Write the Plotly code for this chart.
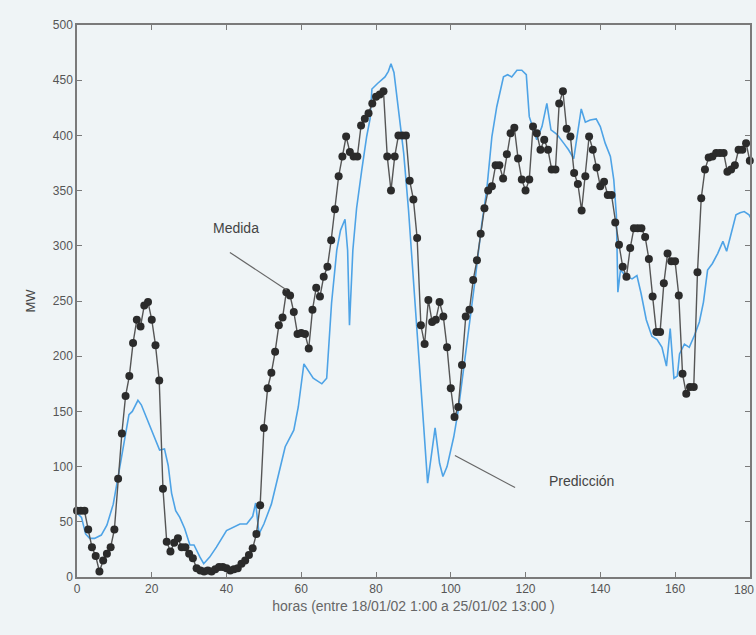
import plotly.graph_objects as go

# Measured load (MW), hourly from hour 0
medida_horas = list(range(0, 182))
medida_mw = [
    60, 60, 60, 43, 27, 19, 5, 15, 21, 27,
    43, 89, 130, 164, 182, 212, 233, 227, 246, 249,
    233, 210, 178, 80, 32, 23, 31, 35, 27, 27,
    21, 17, 8, 6, 5, 6, 5, 7, 9, 9,
    8, 6, 7, 8, 12, 15, 20, 26, 39, 65,
    135, 171, 185, 204, 228, 235, 258, 255, 240, 220,
    221, 220, 207, 242, 262, 254, 272, 281, 305, 333,
    363, 381, 399, 385, 381, 381, 409, 415, 420, 429,
    435, 437, 440, 381, 350, 381, 400, 400, 400, 359,
    342, 307, 228, 211, 251, 231, 233, 249, 236, 208,
    171, 145, 154, 192, 236, 242, 269, 287, 311, 334,
    350, 354, 373, 373, 361, 383, 402, 407, 379, 360,
    350, 360, 408, 402, 387, 396, 387, 369, 369, 429,
    440, 406, 399, 366, 356, 332, 363, 399, 387, 371,
    354, 358, 346, 346, 321, 301, 281, 272, 298, 316,
    316, 316, 308, 288, 254, 222, 222, 266, 293, 286,
    286, 255, 184, 166, 172, 172, 276, 343, 369, 380,
    381, 384, 384, 384, 367, 369, 373, 387, 387, 393,
    377, 356,
]

# Prediction (MW)
pred_horas = [
    0, 1.2, 2.3, 3.4, 4.7, 6.5, 8, 9.7, 11, 12.3, 13.9, 14.8, 16.3, 17.2, 18.8,
    20.8, 22.1, 23.4, 24.4, 25.3, 26.4, 27.5, 28.8, 30.2, 31.3, 32.9, 33.9, 35.5,
    37.3, 40, 43.6, 45.4, 47, 47.8, 48.7, 50, 52, 54, 55.7, 58, 59.2, 60.7, 62,
    63.2, 65.5, 66.8, 68.1, 69.5, 70.5, 71.7, 72.4, 72.9, 73.8, 74.8, 76.2, 77.5,
    78.4, 78.9, 80.4, 82.4, 83.3, 84, 84.8, 86, 87.4, 88.7, 90, 91.4, 92.7, 93.8,
    95, 95.8, 97, 97.9, 99, 100.8, 102, 103.4, 104.7, 106.5, 108.3, 109.6, 111,
    112.3, 114.1, 115.2, 116.3, 117.7, 119, 120.2, 121, 122.1, 123, 124.4, 125.7,
    126.8, 128.4, 130.2, 131.5, 132.9, 133.9, 134.9, 136, 137.3, 138.9, 140,
    141.3, 142.7, 143.6, 144.3, 144.7, 145.4, 146.7, 148.5, 149.8, 150.9, 152.3,
    153.8, 155.2, 156.5, 157.7, 158.7, 159.7, 160.6, 161.2, 162.5, 163.8, 165.2,
    166.5, 167.6, 168.7, 170, 171.4, 172.8, 173.8, 175, 176.3, 177.4, 178.5,
    179.8, 180.8,
]
pred_mw = [
    58, 54, 39, 35, 35, 38, 47, 66, 91, 118, 147, 150, 160, 156, 142,
    125, 115, 116, 101, 76, 60, 54, 44, 29, 29, 18, 12, 18,
    27, 42, 48, 48, 55, 67, 39, 48, 66, 94, 118, 133, 154, 193, 186,
    180, 175, 180, 248, 296, 314, 324, 296, 228, 296, 334, 369, 399,
    415, 442, 447, 453, 458, 465, 457, 423, 384, 332, 272, 205, 139, 85,
    115, 135, 103, 91, 100, 127, 151, 187, 224, 269, 320, 350, 399,
    426, 453, 455, 453, 459, 459, 455, 417, 405, 396, 408, 429,
    405, 401, 393, 387, 379, 402, 424, 412, 414, 415, 408,
    393, 381, 360, 328, 258, 278, 273, 270, 273, 257, 233,
    218, 215, 208, 191, 225, 180, 182, 202, 211, 208, 219,
    231, 249, 278, 284, 293, 304, 295, 311, 328, 330, 331,
    328, 322,
]

x_ticks = list(range(0, 181, 20))
x_tick_labels = [str(v) for v in x_ticks]
y_ticks = list(range(0, 501, 50))

BG = "#eff4f6"
AXC = "#7a7a7a"
TXT = "#555555"
FONT = "Liberation Sans Narrow, Liberation Sans, Arial, sans-serif"

fig = go.Figure()
fig.add_trace(go.Scatter(
    x=pred_horas, y=pred_mw, mode="lines",
    line=dict(color="#4ea3e6", width=1.6),
    name="Predicción", cliponaxis=False,
))
fig.add_trace(go.Scatter(
    x=medida_horas, y=medida_mw, mode="lines+markers",
    line=dict(color="#555555", width=1.4),
    marker=dict(color="#2b2b2b", size=8, line=dict(width=0)),
    name="Medida", cliponaxis=False,
))

# Annotation leader lines
fig.add_shape(type="line", x0=40.9, y0=294, x1=56.1, y1=260,
              line=dict(color="#666666", width=1.2))
fig.add_shape(type="line", x0=101.1, y0=110, x1=117.2, y1=81,
              line=dict(color="#666666", width=1.2))
fig.add_annotation(x=42.5, y=316, text="Medida", showarrow=False,
                   font=dict(family="Liberation Sans, Arial", size=14, color="#444444"))
fig.add_annotation(x=135.0, y=87, text="Predicción", showarrow=False,
                   font=dict(family="Liberation Sans, Arial", size=14, color="#444444"))

# Last x tick label kept inside the page (right-aligned at the edge)
fig.add_annotation(xref="paper", yref="paper", x=1.0, xshift=6, y=0, yshift=-4,
                   xanchor="right", yanchor="top", text=x_tick_labels[-1],
                   showarrow=False, font=dict(family=FONT, size=12, color=TXT))

axis_common = dict(
    showgrid=False, zeroline=False, showline=True, linecolor=AXC, linewidth=1.5,
    mirror="ticks", ticks="inside", ticklen=5, tickcolor=AXC, tickwidth=1.2,
    tickfont=dict(family=FONT, size=12, color=TXT),
    automargin=False,
)
fig.update_xaxes(range=[0, 180.05], tickvals=x_ticks,
                 ticktext=x_tick_labels[:-1] + [""],
                 title=dict(text="horas (entre 18/01/02 1:00 a 25/01/02 13:00 )",
                            font=dict(family="Liberation Sans, Arial", size=14, color="#666666"),
                            standoff=6),
                 **axis_common)
fig.update_yaxes(range=[0, 500], tickvals=y_ticks,
                 title=dict(text="MW", font=dict(family="Liberation Sans, Arial", size=13, color="#444444"),
                            standoff=14),
                 **axis_common)

fig.update_layout(
    width=756, height=635,
    margin=dict(l=77, r=6, t=25, b=58),
    paper_bgcolor=BG, plot_bgcolor=BG,
    showlegend=False,
)
fig.write_html(
    "out.html",
    config={"displayModeBar": False},
    post_script="document.body.style.margin='0';document.body.style.overflow='hidden';"
                "document.body.style.background='" + BG + "';",
)
